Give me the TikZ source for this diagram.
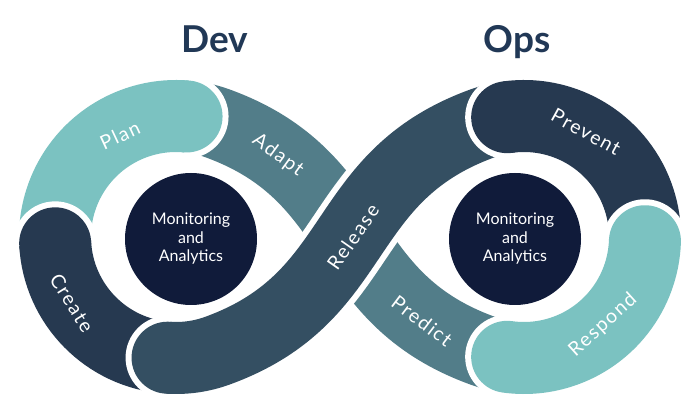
\documentclass[tikz,border=0pt]{standalone}
\usepackage{fontspec}
\setmainfont{Lato}
\newfontfamily\lblfont[LetterSpace=8]{Lato}
\usetikzlibrary{calc}
\definecolor{cLight}{RGB}{123,194,193}
\definecolor{cMid}{RGB}{82,125,137}
\definecolor{cRel}{RGB}{52,79,98}
\definecolor{cDark}{RGB}{38,57,80}
\definecolor{cCirc}{RGB}{16,27,58}
\definecolor{cTitle}{RGB}{33,56,86}
\begin{document}
\begin{tikzpicture}[x=1pt,y=1pt,
  band/.style={line width=72pt},
  halo/.style={line width=84pt, draw=white},
  lbl/.style={text=white, font=\lblfont\fontsize{19.5}{22}\selectfont, inner sep=0pt},
  mon/.style={circle, fill=cCirc, minimum size=132pt, inner sep=0pt, text=white, align=center, font=\fontsize{16}{18.5}\selectfont},
  title/.style={text=cTitle, font=\bfseries\fontsize{37}{40}\selectfont, anchor=base, inner sep=0pt}]
\useasboundingbox (0,0) rectangle (700,414);
\fill[white] (0,0) rectangle (700,414);
\coordinate (L) at (176,177);
\coordinate (R) at (524,177);
% Adapt / Predict band (passes under Release)
\draw[band, cMid] ($(L)+(85:121)$) arc[start angle=85, end angle=70, radius=121]
  .. controls (365.6,236.8) and (334.4,117.2) .. ($(R)+(250:121)$)
  arc[start angle=250, end angle=262, radius=121];
% Plan
\draw[halo] ($(L)+(183:121)$) arc[start angle=183, end angle=85, radius=121];
\fill[white] ($(L)+(85:121)$) circle[radius=42];
\draw[band, cLight] ($(L)+(183:121)$) arc[start angle=183, end angle=85, radius=121];
\fill[cLight] ($(L)+(85:121)$) circle[radius=36];
% Create
\draw[halo] ($(L)+(183:121)$) arc[start angle=183, end angle=266, radius=121];
\fill[white] ($(L)+(183:121)$) circle[radius=42];
\draw[band, cDark] ($(L)+(183:121)$) arc[start angle=183, end angle=266, radius=121];
\fill[cDark] ($(L)+(183:121)$) circle[radius=36];
% Release
\draw[halo] ($(L)+(266:121)$) arc[start angle=266, end angle=290, radius=121]
  .. controls (365.6,117.2) and (334.4,236.8) .. ($(R)+(110:121)$)
  arc[start angle=110, end angle=98, radius=121];
\fill[white] ($(L)+(266:121)$) circle[radius=42];
\draw[band, cRel] ($(L)+(266:121)$) arc[start angle=266, end angle=290, radius=121]
  .. controls (365.6,117.2) and (334.4,236.8) .. ($(R)+(110:121)$)
  arc[start angle=110, end angle=98, radius=121];
\fill[cRel] ($(L)+(266:121)$) circle[radius=36];
% Prevent
\draw[halo] ($(R)+(98:121)$) arc[start angle=98, end angle=-2, radius=121];
\fill[white] ($(R)+(98:121)$) circle[radius=42];
\draw[band, cDark] ($(R)+(98:121)$) arc[start angle=98, end angle=-2, radius=121];
\fill[cDark] ($(R)+(98:121)$) circle[radius=36];
% Respond
\draw[halo, line cap=round] ($(R)+(262:121)$) arc[start angle=262, end angle=358, radius=121];
\draw[band, cLight, line cap=round] ($(R)+(262:121)$) arc[start angle=262, end angle=358, radius=121];
% centre circles
\node[mon] (monL) at (191,175) {Monitoring\\and\\Analytics};
\node[mon] (monR) at (515,175) {Monitoring\\and\\Analytics};
% titles
\node[title] (dev) at (215,361) {Dev};
\node[title] (ops) at (517,361) {Ops};
% labels
\node[lbl, rotate=25] (plan) at (120,279) {Plan};
\node[lbl, rotate=-36] (adapt) at (278,259) {Adapt};
\node[lbl, rotate=-58] (create) at (72,111) {Create};
\node[lbl, rotate=55] (release) at (353,177) {Release};
\node[lbl, rotate=-29] (prevent) at (586,282) {Prevent};
\node[lbl, rotate=42] (respond) at (603,89) {Respond};
\node[lbl, rotate=-37] (predict) at (422,93) {Predict};
\end{tikzpicture}
\end{document}
